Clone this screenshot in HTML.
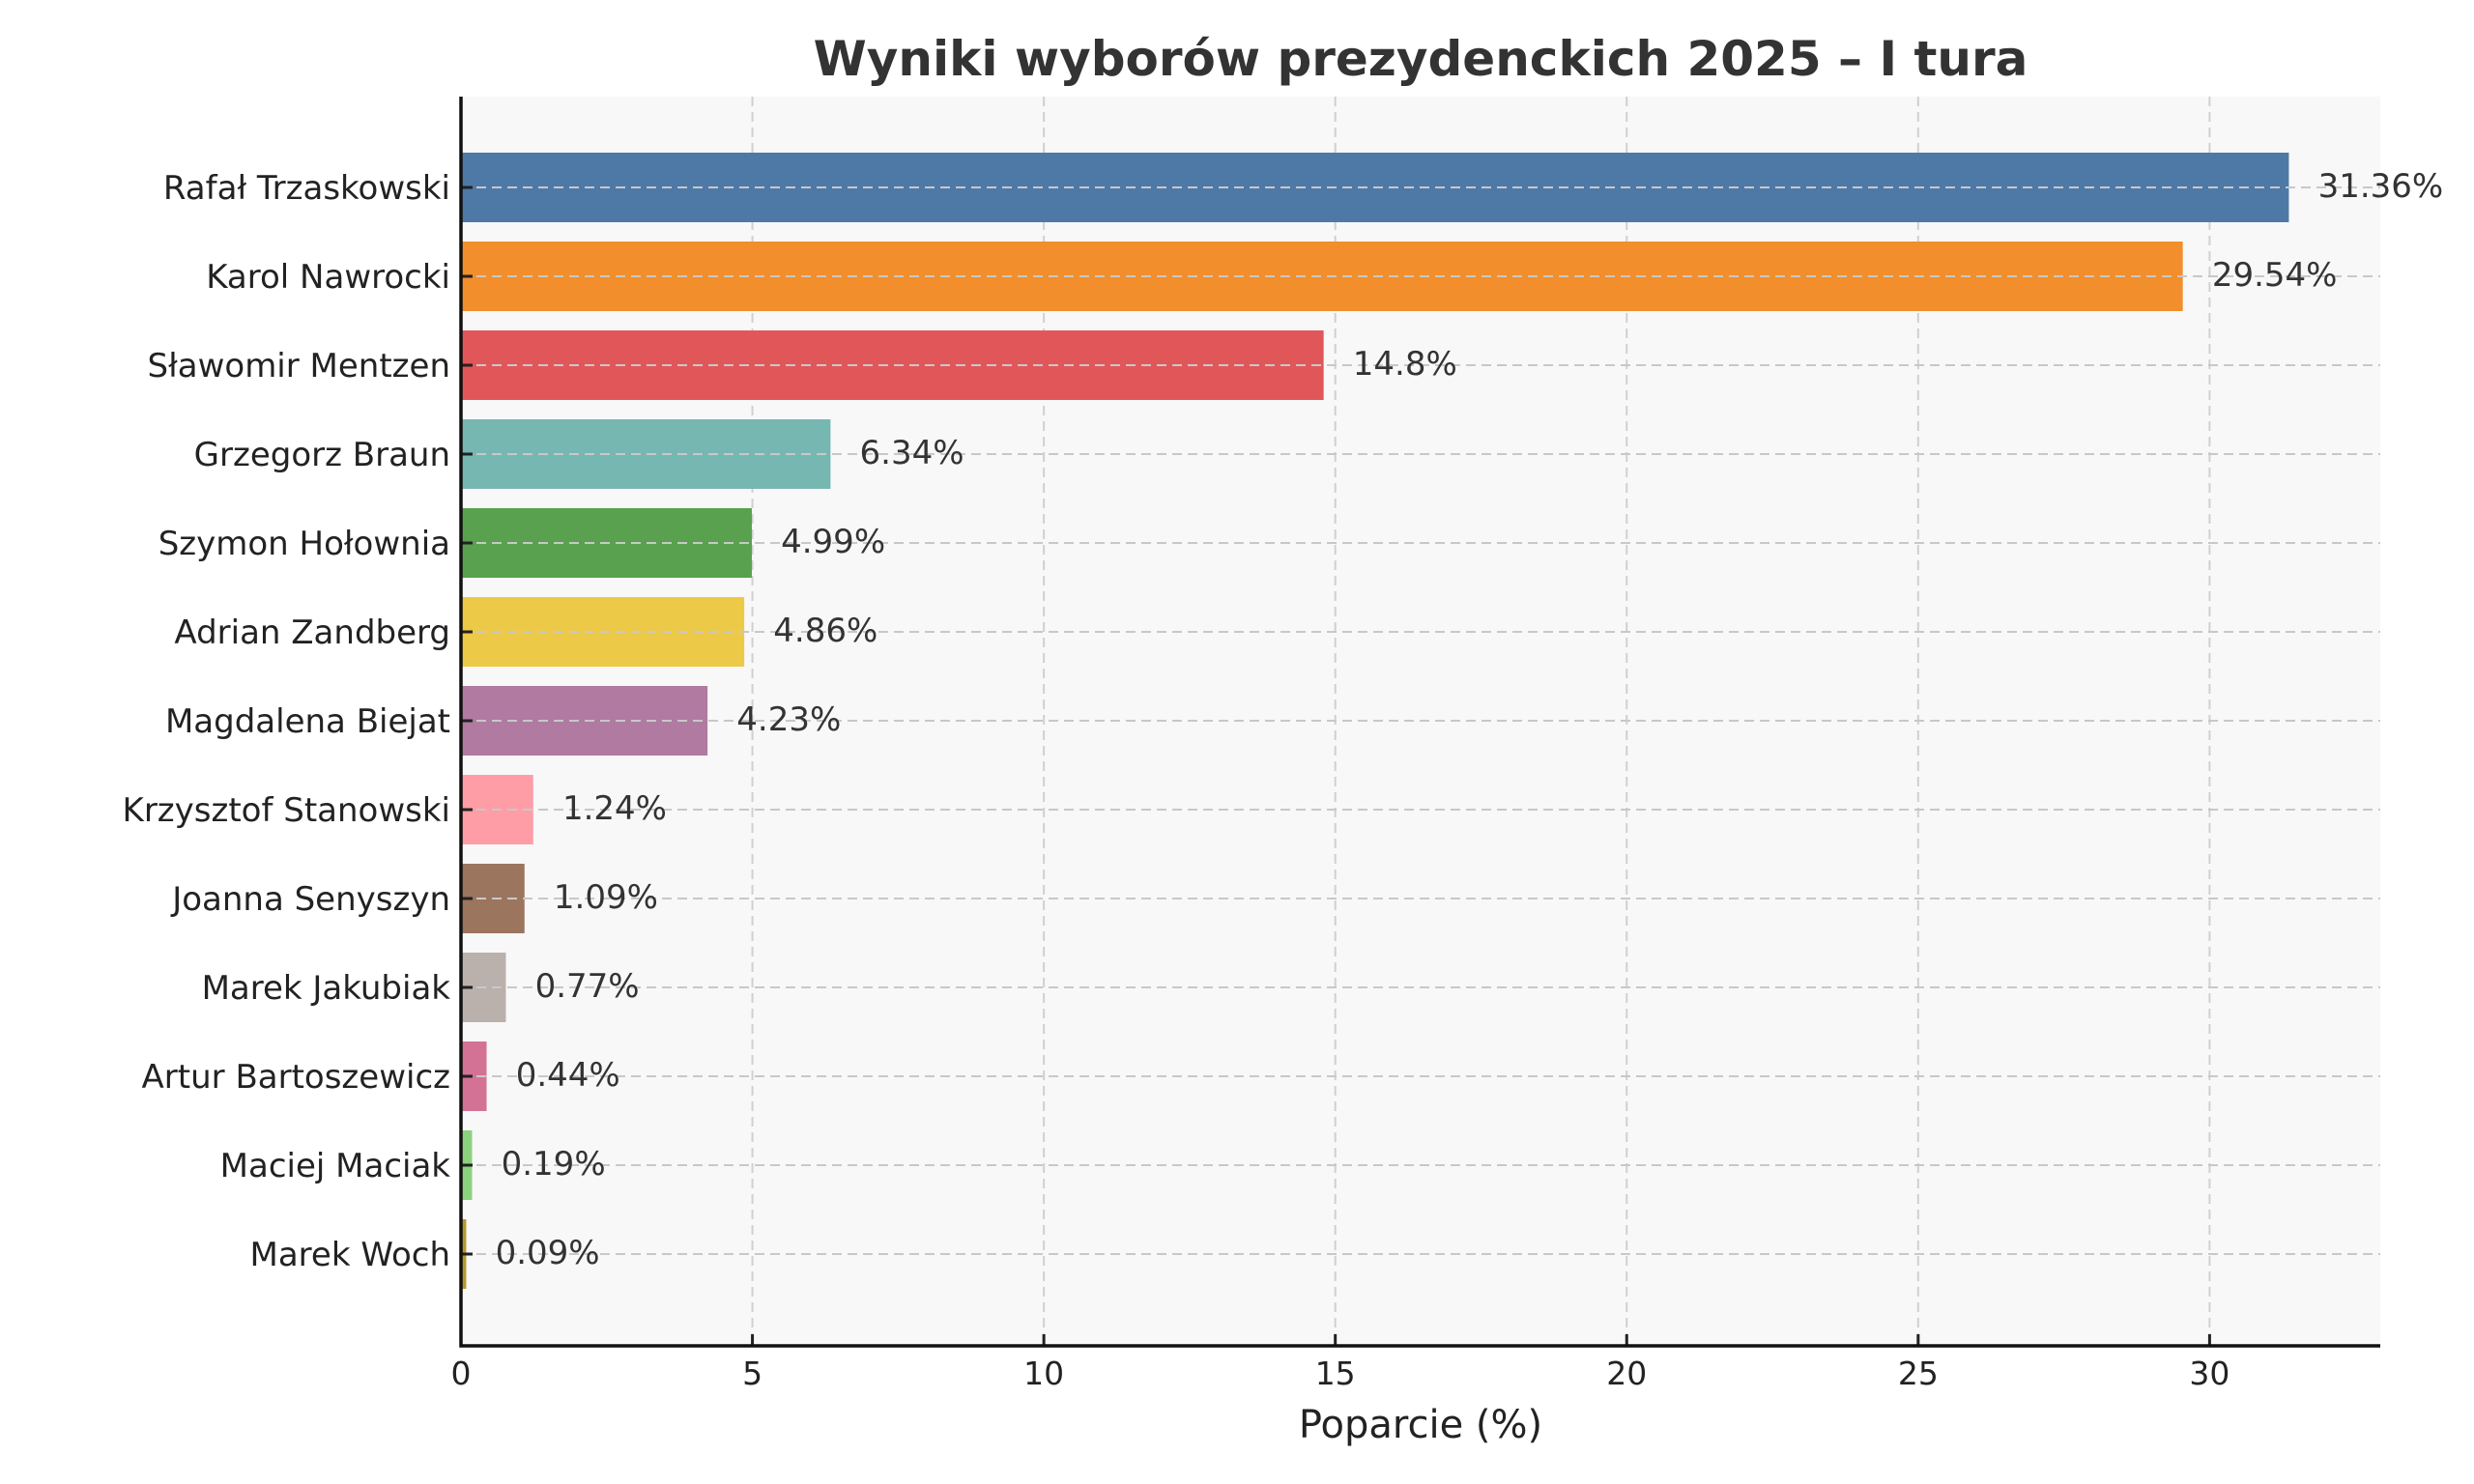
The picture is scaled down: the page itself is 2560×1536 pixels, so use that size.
<!DOCTYPE html>
<html><head><meta charset="utf-8"><style>
html,body{margin:0;padding:0;background:#fff;}
svg{display:block;font-family:"DejaVu Sans","Liberation Sans",sans-serif;}
</style></head><body>
<svg id="chart" width="2560" height="1536" viewBox="0 0 2560 1536" xmlns="http://www.w3.org/2000/svg">
<rect x="0" y="0" width="2560" height="1536" fill="#fff"/>
<text x="1470" y="78" text-anchor="middle" font-size="50" font-weight="bold" fill="#333">Wyniki wyborów prezydenckich 2025 – I tura</text>
<g id="plot"></g>
<text x="1470" y="1488" text-anchor="middle" font-size="40" fill="#222">Poparcie (%)</text>
</svg>
<script>
const categories = ["Rafał Trzaskowski","Karol Nawrocki","Sławomir Mentzen","Grzegorz Braun","Szymon Hołownia","Adrian Zandberg","Magdalena Biejat","Krzysztof Stanowski","Joanna Senyszyn","Marek Jakubiak","Artur Bartoszewicz","Maciej Maciak","Marek Woch"];
const values = [31.36,29.54,14.8,6.34,4.99,4.86,4.23,1.24,1.09,0.77,0.44,0.19,0.09];
const valueLabels = ["31.36%","29.54%","14.8%","6.34%","4.99%","4.86%","4.23%","1.24%","1.09%","0.77%","0.44%","0.19%","0.09%"];
const xTicks = [0,5,10,15,20,25,30];
const colors = ["#4e79a7","#f28e2b","#e15759","#76b7b2","#59a14f","#edc948","#b07aa1","#ff9da7","#9c755f","#bab0ac","#d37295","#8cd17d","#b6992d"];

const NS="http://www.w3.org/2000/svg";
const L=477,R=2463,T=100,B=1393;
const xMax=Math.max(...values)*1.05;
const x=v=>L+(v/xMax)*(R-L);
const firstC=194,pitch=92,barH=72;
const y=i=>firstC+i*pitch;
const g=document.getElementById('plot');
function mk(tag,attrs){const e=document.createElementNS(NS,tag);for(const k in attrs)e.setAttribute(k,attrs[k]);g.appendChild(e);return e;}

const bg=mk('rect',{x:L,y:T,width:R-L,height:B-T,fill:'#f8f8f8'});



xTicks.forEach(t=>{
  const gl=mk('line',{x1:x(t),x2:x(t),y1:T,y2:B,stroke:'#d0d0d0','stroke-width':2,'stroke-dasharray':'10,6'});
  
  
});

categories.forEach((c,i)=>{
  const b=mk('rect',{x:L,y:y(i)-barH/2,width:x(values[i])-L,height:barH,fill:colors[i]});
  
  
});

categories.forEach((c,i)=>{
  const gl=mk('line',{x1:L,x2:R,y1:y(i),y2:y(i),stroke:'#c8c8c8','stroke-width':2,'stroke-dasharray':'10,6'});
  
  
  const tk=mk('line',{x1:L,x2:L+12,y1:y(i),y2:y(i),stroke:'#222','stroke-width':3});
  
  
  const lb=mk('text',{x:466,y:y(i)+12,'text-anchor':'end','font-size':34,fill:'#222'});
  lb.textContent=c;
  
  
  const vl=mk('text',{x:x(values[i]+0.5),y:y(i)+10,'font-size':34,fill:'#333'});
  vl.textContent=valueLabels[i];
  
  
});

xTicks.forEach(t=>{
  const tk=mk('line',{x1:x(t),x2:x(t),y1:B,y2:B-12,stroke:'#222','stroke-width':3});
  
  
  const lb=mk('text',{x:x(t),y:1433,'text-anchor':'middle','font-size':33,fill:'#222'});
  lb.textContent=String(t);
  
  
});

const ya=mk('line',{x1:L,x2:L,y1:T,y2:B+1.5,stroke:'#111','stroke-width':3.5});


const xa=mk('line',{x1:L-1.5,x2:R,y1:B,y2:B,stroke:'#111','stroke-width':3.5});


</script>
</body></html>
